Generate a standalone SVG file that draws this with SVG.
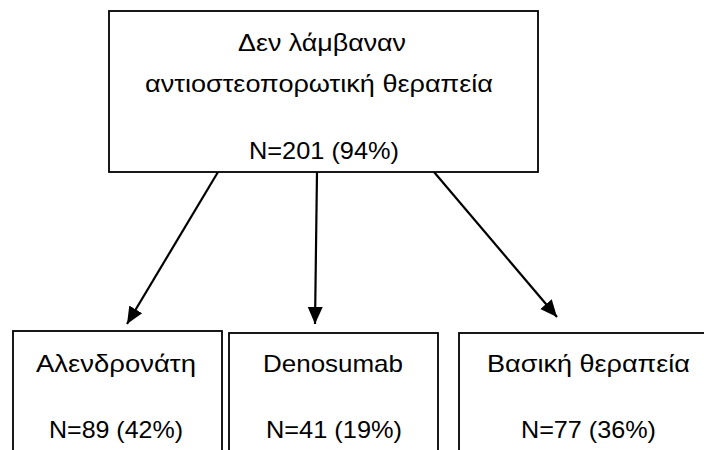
<svg xmlns="http://www.w3.org/2000/svg" width="704" height="450" viewBox="0 0 704 450">
<style>
.box{fill:#fff;stroke:#000;stroke-width:1.8}
.t{font-family:"Liberation Sans",Arial,sans-serif;font-size:24px;fill:#000}
.arr{stroke:#000;stroke-width:2.2;fill:none;marker-end:url(#ah)}
</style>
<defs>
<marker id="ah" markerUnits="userSpaceOnUse" markerWidth="18" markerHeight="16" viewBox="0 0 18 16" refX="17" refY="8" orient="auto">
<path d="M0,0.5 L17,8 L0,15.5 Z" fill="#000"/>
</marker>
</defs>
<rect width="704" height="450" fill="#fff"/>
<g id="connectors">
<line class="arr" x1="218" y1="172" x2="127" y2="324"/>
<line class="arr" x1="317" y1="172" x2="315" y2="324"/>
<line class="arr" x1="434" y1="172" x2="557" y2="317"/>
</g>
<g id="top">
<rect class="box" x="109" y="11" width="429" height="161"/>
<text class="t" x="238" y="51" textLength="168" lengthAdjust="spacingAndGlyphs">Δεν λάμβαναν</text>
<text class="t" x="145" y="92" textLength="348" lengthAdjust="spacingAndGlyphs">αντιοστεοπορωτική θεραπεία</text>
<text class="t" x="249" y="159" textLength="150" lengthAdjust="spacingAndGlyphs">N=201 (94%)</text>
</g>
<g id="alendronate">
<rect class="box" x="13" y="331" width="209" height="130"/>
<text class="t" x="36" y="372" textLength="160" lengthAdjust="spacingAndGlyphs">Αλενδρονάτη</text>
<text class="t" x="49" y="438" textLength="134" lengthAdjust="spacingAndGlyphs">N=89 (42%)</text>
</g>
<g id="denosumab">
<rect class="box" x="229" y="333" width="209" height="130"/>
<text class="t" x="263" y="372" textLength="140" lengthAdjust="spacingAndGlyphs">Denosumab</text>
<text class="t" x="266" y="438" textLength="136" lengthAdjust="spacingAndGlyphs">N=41 (19%)</text>
</g>
<g id="basic">
<rect class="box" x="459" y="333" width="260" height="130"/>
<text class="t" x="487" y="372" textLength="203" lengthAdjust="spacingAndGlyphs">Βασική θεραπεία</text>
<text class="t" x="521" y="438" textLength="135" lengthAdjust="spacingAndGlyphs">N=77 (36%)</text>
</g>
</svg>
